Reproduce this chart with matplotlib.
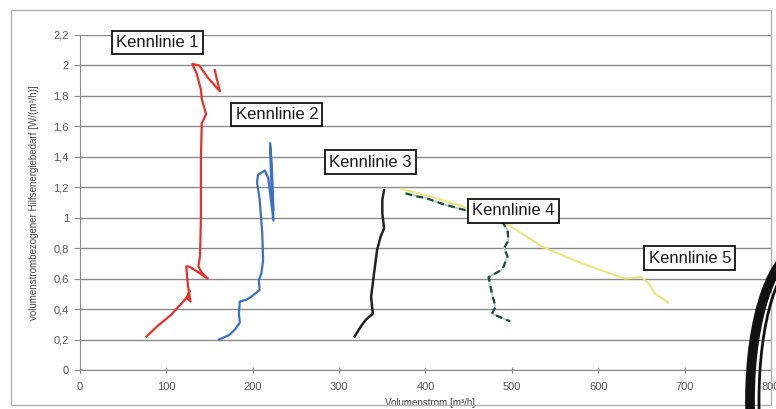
import matplotlib
matplotlib.use("Agg")
import matplotlib.pyplot as plt
from matplotlib.patches import Ellipse, Rectangle
from matplotlib.ticker import FuncFormatter

plt.rcParams['font.family'] = ['Liberation Sans', 'DejaVu Sans']

# Kennlinie 1 (rot)
k1_x = [77, 90, 105, 118, 124, 127, 124, 128, 125, 123, 126, 132, 148, 141, 137, 139,
        140, 140, 141, 146, 141, 140, 135, 130, 138, 148, 162, 158, 156]
k1_y = [0.22, 0.29, 0.36, 0.44, 0.48, 0.52, 0.47, 0.45, 0.55, 0.68, 0.68, 0.66, 0.60, 0.64, 0.68, 0.75,
        1.0, 1.4, 1.62, 1.68, 1.78, 1.84, 1.95, 2.01, 2.0, 1.92, 1.83, 1.92, 1.97]

# Kennlinie 2 (blau)
k2_x = [161, 173, 180, 185, 184, 185, 192, 198, 208, 207, 210, 212, 211, 208, 205, 206,
        214, 218, 224, 221, 220, 222, 224]
k2_y = [0.20, 0.23, 0.27, 0.31, 0.37, 0.45, 0.46, 0.48, 0.525, 0.59, 0.635, 0.72, 0.90, 1.12, 1.23, 1.28,
        1.31, 1.26, 0.98, 1.30, 1.49, 1.35, 1.05]

# Kennlinie 3 (schwarz)
k3_x = [318, 325, 331, 339, 337, 339, 341, 344, 348, 352, 350, 350, 352]
k3_y = [0.22, 0.285, 0.33, 0.37, 0.48, 0.57, 0.66, 0.79, 0.875, 0.93, 1.03, 1.12, 1.18]

# Kennlinie 4 (gruen gestrichelt)
k4_x = [377, 390, 400, 410, 420, 439, 460, 480, 489, 495, 496, 491, 495, 489, 473, 477,
        481, 477, 485, 498]
k4_y = [1.16, 1.14, 1.13, 1.11, 1.09, 1.06, 1.03, 0.99, 0.97, 0.92, 0.85, 0.80, 0.745, 0.66, 0.61, 0.50,
        0.415, 0.37, 0.35, 0.32]

# Kennlinie 5 (gelb)
k5_x = [372, 385, 400, 440, 470, 497, 535, 581, 631, 650, 658, 666, 677, 681]
k5_y = [1.19, 1.17, 1.15, 1.08, 1.02, 0.95, 0.81, 0.70, 0.60, 0.61, 0.57, 0.50, 0.46, 0.44]

labels = ["Kennlinie 1", "Kennlinie 2", "Kennlinie 3", "Kennlinie 4", "Kennlinie 5"]
label_x = [90, 228, 336, 502, 706]
label_y = [2.15, 1.68, 1.365, 1.045, 0.735]

x_ticks = [0, 100, 200, 300, 400, 500, 600, 700, 800]
y_ticks = [0, 0.2, 0.4, 0.6, 0.8, 1.0, 1.2, 1.4, 1.6, 1.8, 2.0, 2.2]

fig = plt.figure(figsize=(7.76, 4.09), dpi=100)
ax = fig.add_axes([80 / 776, 1 - 370 / 409, 691 / 776, 335 / 409])

# Rahmen um das Diagramm
fig.patches.append(Rectangle((11 / 776, 4 / 409), 760 / 776, 395 / 409,
                             transform=fig.transFigure, fill=False,
                             edgecolor='#b0b0b0', lw=1.0))

ax.plot(k1_x, k1_y, color='#e8312c', lw=1.6, zorder=3)
ax.plot(k2_x, k2_y, color='#3c6fc6', lw=1.6, zorder=3)
ax.plot(k3_x, k3_y, color='#222222', lw=1.8, zorder=3)
ax.plot(k5_x, k5_y, color='#ece47e', lw=1.5, zorder=3)
ax.plot(k4_x, k4_y, color='#a9cbd8', lw=1.2, zorder=3)
ax.plot(k4_x, k4_y, color='#1f4d33', lw=1.6, dashes=(3, 2), zorder=4)

for txt, lx, ly in zip(labels, label_x, label_y):
    ax.text(lx, ly, txt, ha='center', va='center', fontsize=12, color='#1a1a1a', zorder=6,
            bbox=dict(boxstyle='square,pad=0.25', facecolor='white', edgecolor='#111111', lw=1.3))

ax.set_xlim(0, 800)
ax.set_ylim(0, 2.2)
ax.set_xticks(x_ticks)
ax.set_yticks(y_ticks)
ax.yaxis.set_major_formatter(FuncFormatter(lambda v, p: ('%g' % round(v, 1)).replace('.', ',')))
ax.grid(axis='y', color='#8a8a8a', lw=1.0)
ax.set_axisbelow(True)
for s in ['top', 'right']:
    ax.spines[s].set_visible(False)
ax.spines['left'].set_color('#8a8a8a')
ax.spines['bottom'].set_color('#8a8a8a')
ax.tick_params(axis='x', direction='inout', length=5, color='#8a8a8a', labelsize=8,
               labelcolor='#555555', pad=6)
ax.tick_params(axis='y', direction='out', length=4, color='#8a8a8a', labelsize=8,
               labelcolor='#555555', pad=4)
ax.set_xlabel("Volumenstrom [m³/h]", fontsize=7, color='#444444', labelpad=0)
ax.set_ylabel("volumenstrombezogener Hilfsenergiebedarf [W/(m³/h)]", fontsize=7,
              color='#444444', labelpad=10)
ax.xaxis.set_label_coords(0.506, -0.085)

# Ringbindung am rechten Rand
for w, h, lw in [(104, 300, 7), (86, 282, 2)]:
    e = Ellipse((802 / 776, 1 - 400 / 409), w / 776, h / 409, transform=fig.transFigure,
                fill=False, edgecolor='#111111', lw=lw, zorder=10)
    fig.patches.append(e)

fig.savefig("out.png", dpi=100, facecolor='white')
